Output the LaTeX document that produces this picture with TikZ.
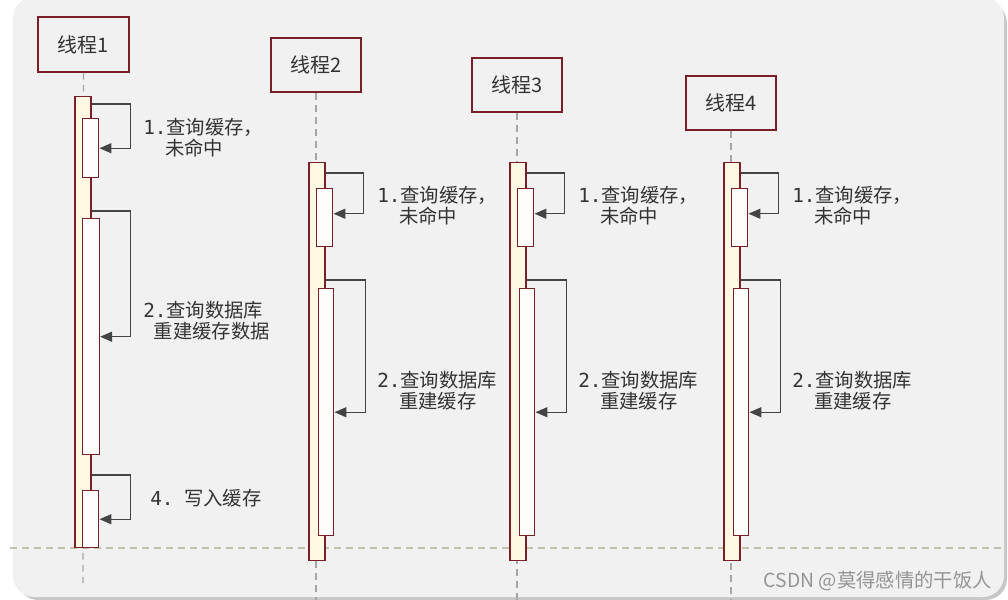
\documentclass[tikz,border=0pt]{standalone}
\usepackage{fontspec}
\setmainfont{Noto Sans CJK SC}
\newfontfamily\monofont{DejaVu Sans Mono}
\usetikzlibrary{calc,positioning,arrows.meta}
\definecolor{boxred}{HTML}{7A1E28}
\definecolor{barfill}{HTML}{FFF8E2}
\definecolor{innerfill}{HTML}{FFFDF9}
\definecolor{bggrey}{HTML}{F1F1F1}
\definecolor{textgrey}{HTML}{333333}
\definecolor{arrowgrey}{HTML}{444444}

\begin{document}
\begin{tikzpicture}[x=0.75pt,y=-0.75pt]

\tikzset{threadbox/.style={draw=boxred,line width=1.5pt,minimum width=68pt,minimum height=41pt,inner sep=0pt,font=\fontsize{15}{18}\selectfont,text=textgrey},
bar/.style={draw=boxred,fill=barfill,line width=1.1pt,inner sep=0pt,minimum width=12pt,minimum height=#1*0.75pt},
inbar/.style={draw=boxred,fill=innerfill,line width=1.1pt,inner sep=0pt,minimum width=12pt,minimum height=#1*0.75pt},
msg/.style={draw=arrowgrey,line width=1.1pt,-{Triangle[length=9pt,width=7.5pt]}},
lifeline/.style={draw=black!35,line width=0.9pt,dash pattern=on 5pt off 4pt},
sepline/.style={draw=black!30!yellow!25!gray!60,line width=0.8pt,dash pattern=on 5pt off 4pt},
lbl/.style={font=\fontsize{14.5}{15.75}\selectfont,text=textgrey,align=left,inner sep=0pt,anchor=west}}

\useasboundingbox (0,0) rectangle (1008,600);

% Background
\fill[black!22,rounded corners=16pt] (17,2) rectangle (1007,600);
\fill[bggrey,rounded corners=16pt] (13,-3) rectangle (1004,597);

% Threads
\node[threadbox] (t1) at (83.5,44.5) {线程1};
\foreach \n/\x/\y in {2/316/65,3/517/85,4/731/103}
  \node[threadbox] (t\n) at (\x,\y) {线程\n};

% Lifelines
\coordinate (e1) at (83,583);
\draw[lifeline] (t1) -- (e1);
\foreach \n/\x in {2/316,3/517,4/731} {
  \coordinate (e\n) at (\x,600);
  \draw[lifeline] (t\n) -- (e\n);
}

% Separator
\draw[sepline] (10,548) -- (1006,548);

% Thread 1 bars
\node[bar=451,anchor=north] (a1) at (83,96) {};
\node[inbar=59,anchor=north west] (b11) at (82,118) {};
\node[inbar=236,anchor=north west,minimum width=12.5pt] (b12) at (82,218) {};
\node[inbar=57,anchor=north west] (b14) at (82,490) {};

% Thread 1 messages
\draw[msg] ($(a1.north east)+(0,8)$) -- ++(39,0) |- (b11.east);
\draw[msg] ($(a1.north east)+(0,115)$) -- ++(39,0) |- (b12.east);
\draw[msg] ($(a1.north east)+(0,379)$) -- ++(39,0) |- (b14.east);
\node[lbl] (l11) at (143,137.5) {{\monofont 1.}查询缓存，\\\hspace*{16.5pt}未命中};
\node[lbl] (l12) at (143,321) {{\monofont 2.}查询数据库\\\hspace*{8pt}重建缓存数据};
\node[lbl] (l14) at (150,498) {{\monofont 4.}\hspace*{8pt}写入缓存};

% Threads 2-4
\foreach \n/\x in {2/316,3/517,4/731} {
  \node[bar=398,anchor=north] (a\n) at (\x+1,162) {};
  \node[inbar=58,anchor=north west] (b\n1) at (\x,188) {};
  \node[inbar=247,anchor=north west,minimum width=11.25pt] (b\n2) at (\x+2,288) {};
  \draw[msg] ($(a\n.north east)+(0,11)$) -- ++(38,0) |- ($(b\n1.east)+(0,-4)$);
  \draw[msg] ($(a\n.north east)+(0,118)$) -- ++(40,0) |- (b\n2.east);
  \node[lbl] (l\n1) at (\x+61,205.5) {{\monofont 1.}查询缓存，\\\hspace*{16.5pt}未命中};
  \node[lbl] (l\n2) at (\x+61,390.5) {{\monofont 2.}查询数据库\\\hspace*{16.5pt}重建缓存};
}

% Watermark
\node[anchor=east,text=black!42,font=\fontsize{14.5}{17}\selectfont,inner sep=0pt] (mark) at (992,581) {CSDN @莫得感情的干饭人};

\end{tikzpicture}
\end{document}
